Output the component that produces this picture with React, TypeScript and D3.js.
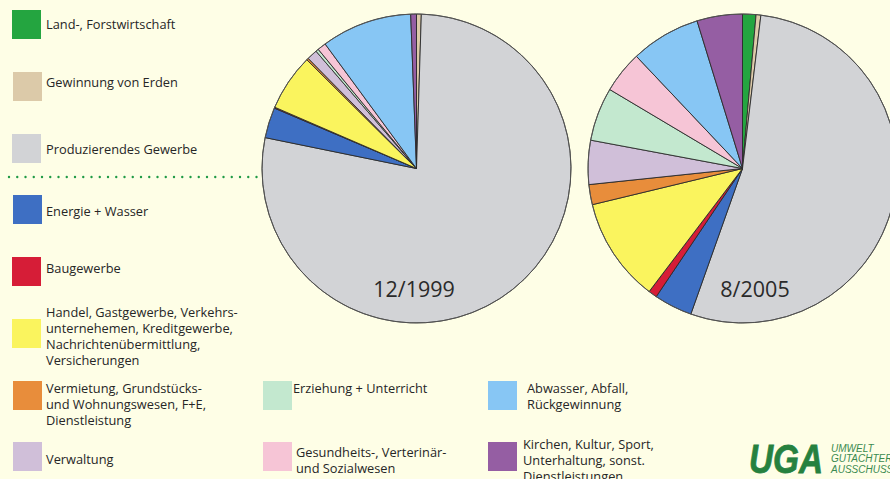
import React, { useRef, useEffect } from 'react';
import * as d3 from "d3";

const width = 890;
const height = 479;

// sectors, legend order = slice order clockwise from 12 o'clock
const sectors = [
    ["Land-, Forstwirtschaft"],
    ["Gewinnung von Erden"],
    ["Produzierendes Gewerbe"],
    ["Energie + Wasser"],
    ["Baugewerbe"],
    ["Handel, Gastgewerbe, Verkehrs-", "unternehemen, Kreditgewerbe,", "Nachrichtenübermittlung,", "Versicherungen"],
    ["Vermietung, Grundstücks-", "und Wohnungswesen, F+E,", "Dienstleistung"],
    ["Verwaltung"],
    ["Erziehung + Unterricht"],
    ["Gesundheits-, Verterinär-", "und Sozialwesen"],
    ["Abwasser, Abfall,", "Rückgewinnung"],
    ["Kirchen, Kultur,  Sport,", "Unterhaltung, sonst.", "Dienstleistungen"],
];
const colors = ["#24a540", "#dccaa9", "#d2d3d6", "#3e6fc3", "#d61d37", "#faf45e", "#e88d3b", "#d0bfd9", "#c3e8cf", "#f6c5d6", "#87c6f4", "#955ea3"];

const values1999 = [0, 0.5, 77.9, 3.2, 0.1, 5.95, 0.2, 1.1, 0.3, 0.9, 9.5, 0.6];
const values2005 = [1.4, 0.5, 53.5, 4.0, 0.9, 10.9, 2.1, 4.6, 5.6, 4.4, 7.3, 4.75];
const pieLabels = ["12/1999", "8/2005"];
const logoLines = ["UMWELT", "GUTACHTER", "AUSSCHUSS"];

// legend placement: swatch x, swatch y, text x, first line y
const legendLayout = [
    [12, 10, 46, 25], [13, 72, 46, 83], [12, 134, 46, 150], [13, 195, 46, 212],
    [12, 257, 46, 269], [12, 319, 46, 313], [13, 381, 46, 389], [13, 442, 46, 460],
    [263, 381, 293, 389], [263, 442, 296, 453], [488, 381, 527, 389], [488, 442, 523, 445],
];

const font = "'Open Sans', sans-serif";

function Chart() {
    const d3Container = useRef(null);

    useEffect(() => {
        const svg = d3.select(d3Container.current);
        svg.selectAll("*").remove();

        svg.append("rect")
            .attr("width", width)
            .attr("height", height)
            .attr("fill", "#fefee6");

        const radius = 154.5;
        const pie = d3.pie().sort(null).value(d => d);
        const arc = d3.arc().innerRadius(0).outerRadius(radius);

        const pies = [
            { values: values1999, cx: 416.5, cy: 168.5, label: pieLabels[0], lx: 414 },
            { values: values2005, cx: 742.5, cy: 168.5, label: pieLabels[1], lx: 755 },
        ];

        pies.forEach(p => {
            const g = svg.append("g").attr("transform", `translate(${p.cx},${p.cy})`);
            g.selectAll("path")
                .data(pie(p.values))
                .join("path")
                .attr("d", arc)
                .attr("fill", (d, i) => colors[i])
                .attr("stroke", "#2a2a2a")
                .attr("stroke-width", 0.9)
                .attr("stroke-linejoin", "round");
            g.append("circle")
                .attr("r", radius)
                .attr("fill", "none")
                .attr("stroke", "#555")
                .attr("stroke-width", 0.8);
            g.append("text")
                .attr("x", p.lx - p.cx)
                .attr("y", 121)
                .attr("dy", "0.35em")
                .attr("text-anchor", "middle")
                .attr("font-family", font)
                .attr("font-size", 21.5)
                .attr("fill", "#2a2a2a")
                .text(p.label);
        });

        // dotted separator
        const dots = d3.range(9, 258, 8.25);
        svg.append("g")
            .selectAll("circle")
            .data(dots)
            .join("circle")
            .attr("cx", d => d)
            .attr("cy", 177)
            .attr("r", 1.2)
            .attr("fill", "#1f9a45");

        const legend = svg.append("g");
        sectors.forEach((lines, i) => {
            const [sx, sy, tx, ty] = legendLayout[i];
            legend.append("rect")
                .attr("x", sx)
                .attr("y", sy)
                .attr("width", 29)
                .attr("height", 29)
                .attr("fill", colors[i]);
            const t = legend.append("text")
                .attr("font-family", font)
                .attr("font-size", 12.8)
                .attr("fill", "#262626");
            lines.forEach((line, j) => {
                t.append("tspan")
                    .attr("x", tx)
                    .attr("y", ty + j * 16)
                    .attr("dy", "0.35em")
                    .text(line);
            });
        });

        // logo
        const logo = svg.append("g");
        logo.append("text")
            .attr("x", 749)
            .attr("y", 473)
            .attr("font-family", "'Liberation Sans', Arial, sans-serif")
            .attr("font-weight", "bold")
            .attr("font-style", "italic")
            .attr("font-size", 41)
            .attr("textLength", 74)
            .attr("lengthAdjust", "spacingAndGlyphs")
            .attr("fill", "#26813f")
            .attr("stroke", "#26813f")
            .attr("stroke-width", 0.8)
            .text("UGA");
        const small = logo.append("text")
            .attr("font-family", "'Liberation Sans', Arial, sans-serif")
            .attr("font-style", "italic")
            .attr("font-size", 10)
            .attr("fill", "#3a8a50");
        logoLines.forEach((s, j) => {
            small.append("tspan")
                .attr("x", 831)
                .attr("y", 451.5 + j * 10.7)
                .text(s);
        });
    }, []);

    return (
        <svg ref={d3Container} width={width} height={height} style={{ display: "block" }} />
    );
}

export default function App() {
    useEffect(() => {
        document.body.style.margin = "0";
    }, []);
    return <Chart />;
}
